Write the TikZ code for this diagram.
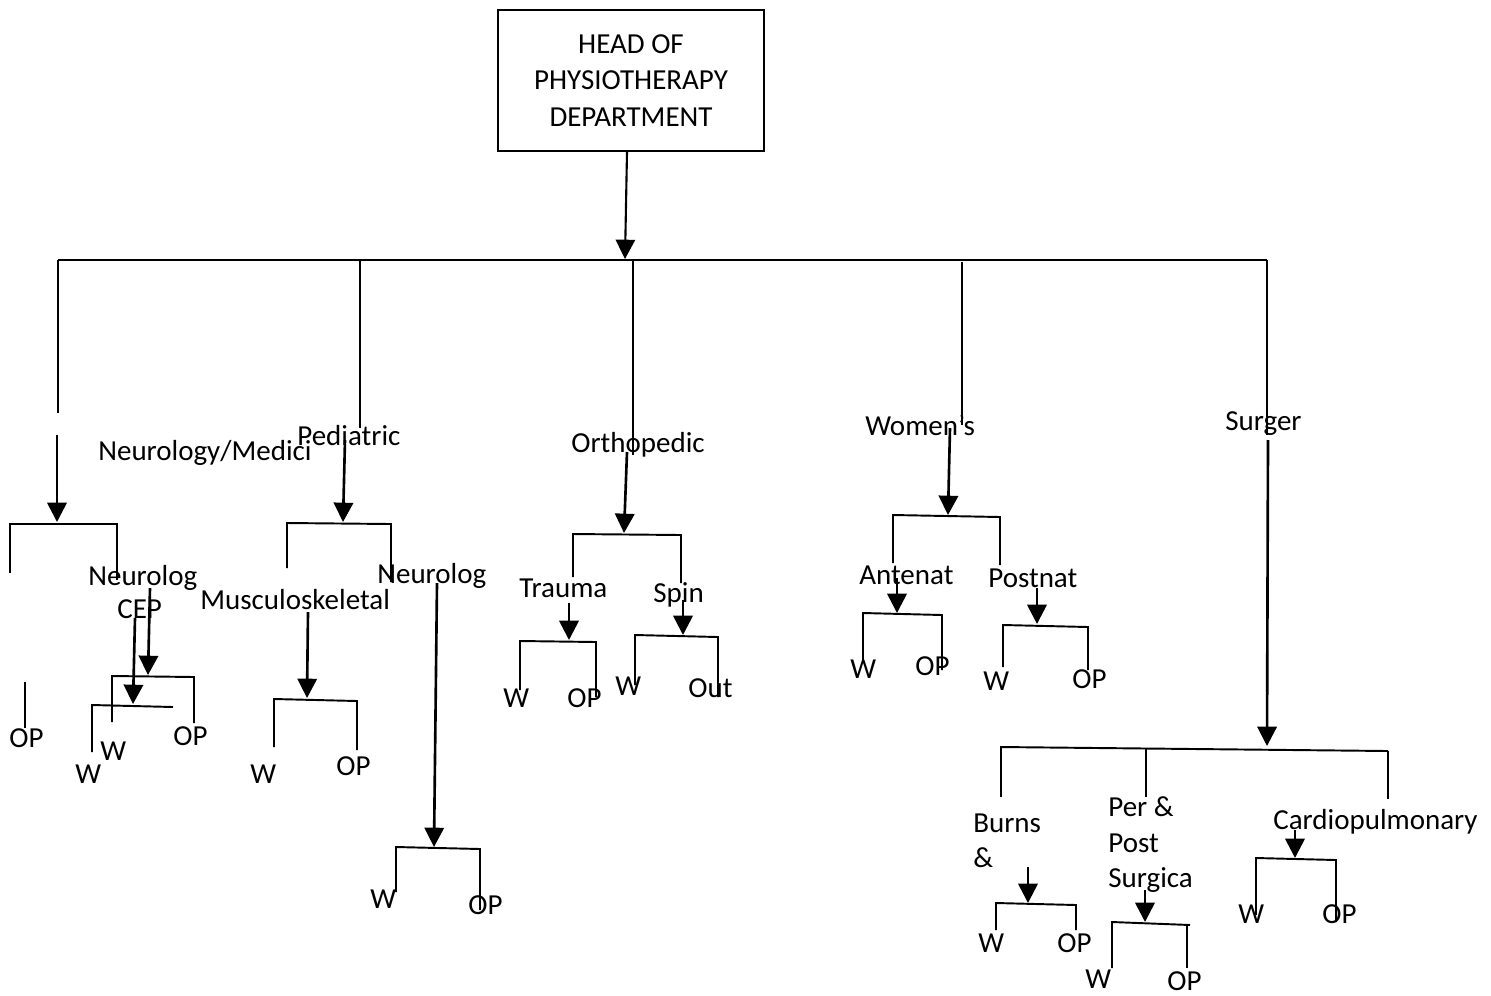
\documentclass[tikz,border=0pt]{standalone}
\usepackage{fontspec}
\setmainfont{Carlito}
\usetikzlibrary{arrows.meta}
\newcommand\brk[7]{%
  \coordinate (#1L) at (#2,#6); \coordinate (#1l) at (#2,#4);
  \coordinate (#1r) at (#3,#5); \coordinate (#1R) at (#3,#7);
  \draw[ln] (#1L) -- (#1l) -- (#1r) -- (#1R);}
\newcommand\arw[5]{%
  \coordinate (#1s) at (#2,#3); \coordinate (#1e) at (#4,#5);
  \draw[arr] (#1s) -- (#1e);}
\tikzset{
  lbl/.style={anchor=base west, inner sep=0pt, font=\fontsize{16.5}{20.5}\selectfont},
  ln/.style={line width=1.1pt},
  thinln/.style={line width=0.7pt},
  arr/.style={line width=1.5pt, -{Triangle[length=11pt,width=11pt]}},
}
\begin{document}
\begin{tikzpicture}[x=0.02cm, y=-0.02cm]
\useasboundingbox (0,0) rectangle (1491,995);
% head
\node (head) [draw, line width=1pt, minimum width=5.32cm, minimum height=2.82cm,
  align=center, inner sep=0pt, font=\fontsize{16.5}{21}\selectfont] at (631,80.5)
  {HEAD OF\\PHYSIOTHERAPY\\DEPARTMENT};
\coordinate (a0) at (625,259);
\draw[arr, line width=1.2pt] (head.south -| a0) ++(2,0) coordinate (h0) (h0) -- (a0);
% main bar
\coordinate (b1) at (58,260); \coordinate (b2) at (360,260); \coordinate (b3) at (633,261);
\coordinate (b4) at (962,262); \coordinate (b5) at (1267,260);
\coordinate (e1) at (58,413); \coordinate (e2) at (360,428); \coordinate (e3) at (633,455);
\coordinate (e4) at (962,425); \coordinate (e5) at (1267,435);
\draw[ln] (b1) -- (b5);
\draw[thinln] (b1) -- (e1) (b2) -- (e2) (b3) -- (e3) (b4) -- (e4) (b5) -- (e5);
% level-1 labels
\node[lbl] (nm) at (98,460) {Neurology/Medici};
\node[lbl] (pd) at (297,445) {Pediatric};
\node[lbl] (or) at (571,452) {Orthopedic};
\node[lbl] (wo) at (865,435) {Women’s};
\node[lbl] (su) at (1225,430) {Surger};
% Neurology/Medicine branch
\arw{NMa}{57}{435}{57}{522}
\brk{NM}{10}{117}{524}{524}{573}{580}
\node[lbl] (nmn) at (88,585) {Neurolog};
\node[lbl] (nmc) at (117,618) {CEP};
\arw{NMoa}{150}{588}{148}{675}
\brk{NMo}{112}{194}{676}{677}{722}{723}
\arw{NMta}{135}{618}{133}{704}
\brk{NMt}{92}{173}{705}{707}{752}{707}
\coordinate (opLt) at (25,682); \coordinate (opLb) at (25,728);
\draw[ln] (opLt) -- (opLb);
\node[lbl] (nmop0) at (9,747) {OP};
\node[lbl] (nmop1) at (173,745) {OP};
\node[lbl] (nmw1) at (100,760) {W};
\node[lbl] (nmw2) at (75,783) {W};
% Pediatric branch
\arw{PDa}{345}{440}{343}{522}
\brk{PD}{287}{391}{523}{524}{568}{582}
\node[lbl] (pdm) at (200,609) {Musculoskeletal};
\node[lbl] (pdn) at (377,583) {Neurolog};
\arw{PDMa}{308}{612}{307}{698}
\brk{PDM}{274}{357}{699}{701}{747}{750}
\node[lbl] (pdmw) at (250,783) {W};
\node[lbl] (pdmop) at (336,775) {OP};
\arw{PDNa}{437}{583}{434}{847}
\brk{PDN}{396}{480}{847}{849}{892}{910}
\node[lbl] (pdnw) at (370,908) {W};
\node[lbl] (pdnop) at (468,914) {OP};
% Orthopedic branch
\arw{ORa}{627}{452}{624}{533}
\brk{OR}{573}{681}{534}{535}{577}{583}
\node[lbl] (ort) at (519,597) {Trauma};
\node[lbl] (ors) at (653,602) {Spin};
\arw{ORTa}{569}{603}{569}{640}
\brk{ORT}{520}{596}{641}{642}{690}{697}
\node[lbl] (ortw) at (503,707) {W};
\node[lbl] (ortop) at (567,707) {OP};
\arw{ORSa}{683}{600}{683}{635}
\brk{ORS}{635}{718}{635}{637}{685}{697}
\node[lbl] (orsw) at (615,695) {W};
\node[lbl] (orso) at (688,697) {Out};
% Women's branch
\arw{WOa}{950}{428}{948}{515}
\brk{WO}{893}{1000}{515}{517}{563}{565}
\node[lbl] (woa) at (859,584) {Antenat};
\node[lbl] (wop) at (988,587) {Postnat};
\arw{WOAa}{897}{578}{897}{613}
\brk{WOA}{863}{942}{613}{615}{663}{670}
\node[lbl] (woaw) at (850,678) {W};
\node[lbl] (woaop) at (915,675) {OP};
\arw{WOPa}{1037}{588}{1037}{624}
\brk{WOP}{1003}{1088}{625}{627}{667}{670}
\node[lbl] (wopw) at (983,690) {W};
\node[lbl] (wopop) at (1072,688) {OP};
% Surgery branch
\arw{SUa}{1268}{440}{1267}{746}
\coordinate (s1) at (1000,747); \coordinate (s2) at (1146,748); \coordinate (s3) at (1388,751);
\coordinate (t1) at (1001,797); \coordinate (t2) at (1146,797); \coordinate (t3) at (1388,799);
\draw[ln] (s1) -- (s3);
\draw[ln] (s1) ++(1,1) coordinate (s1b) (s1b) -- (t1) (s2) -- (t2) (s3) -- (t3);
\node[lbl] (sub1) at (973,832) {Burns};
\node[lbl] (sub2) at (973,867) {\&};
\node[lbl] (sup1) at (1108,816) {Per \&};
\node[lbl] (sup2) at (1108,852) {Post};
\node[lbl] (sup3) at (1108,887) {Surgica};
\node[lbl] (suc) at (1273,829) {Cardiopulmonary};
\arw{SUBa}{1028}{867}{1028}{903}
\brk{SUB}{996}{1076}{903}{905}{930}{930}
\node[lbl] (subw) at (978,952) {W};
\node[lbl] (subop) at (1057,952) {OP};
\arw{SUPa}{1145}{890}{1145}{922}
\brk{SUP}{1112}{1190}{922}{925}{968}{925}
\coordinate (SUPx) at (1187,925); \coordinate (SUPy) at (1187,968);
\draw[ln] (SUPx) -- (SUPy);
\node[lbl] (supw) at (1085,988) {W};
\node[lbl] (supop) at (1167,990) {OP};
\arw{SUCa}{1295}{830}{1295}{858}
\brk{SUC}{1256}{1336}{858}{860}{915}{922}
\node[lbl] (sucw) at (1238,923) {W};
\node[lbl] (sucop) at (1322,923) {OP};
\end{tikzpicture}
\end{document}
